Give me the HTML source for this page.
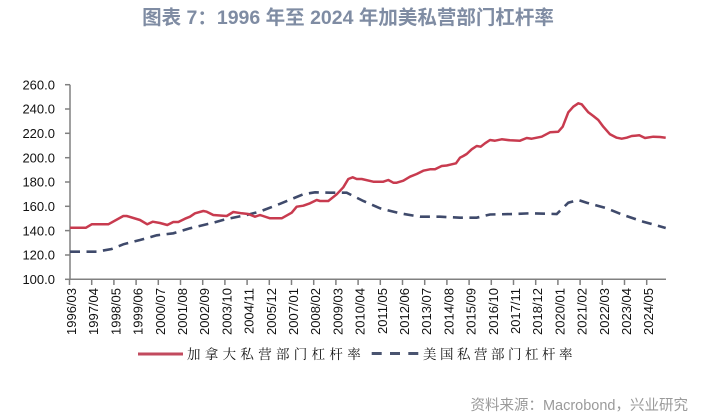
<!DOCTYPE html>
<html><head><meta charset="utf-8">
<style>
html,body{margin:0;padding:0;background:#fff;}
svg{display:block;}
</style></head>
<body>
<svg width="710" height="414" viewBox="0 0 710 414" xmlns="http://www.w3.org/2000/svg">
<rect width="710" height="414" fill="#fff"/>
<text x="348" y="24" text-anchor="middle" font-family="'Liberation Sans','Noto Sans CJK SC',sans-serif" font-size="19.5" font-weight="bold" fill="#7f8ca3">图表 7：1996 年至 2024 年加美私营部门杠杆率</text>

<g stroke="#808080" stroke-width="1.5" fill="none">
<line x1="70" y1="84.7" x2="70" y2="279.3"/>
<line x1="70" y1="279.3" x2="666" y2="279.3"/>
<line x1="65" y1="84.7" x2="70" y2="84.7"/>
<line x1="65" y1="109" x2="70" y2="109"/>
<line x1="65" y1="133.3" x2="70" y2="133.3"/>
<line x1="65" y1="157.7" x2="70" y2="157.7"/>
<line x1="65" y1="182" x2="70" y2="182"/>
<line x1="65" y1="206.3" x2="70" y2="206.3"/>
<line x1="65" y1="230.6" x2="70" y2="230.6"/>
<line x1="65" y1="255" x2="70" y2="255"/>
<line x1="65" y1="279.3" x2="70" y2="279.3"/>
</g>
<g stroke="#808080" stroke-width="1.5" id="xt"></g>

<g font-family="'Liberation Sans',sans-serif" font-size="13" fill="#111" text-anchor="end">
<text x="55" y="89.4">260.0</text>
<text x="55" y="113.7">240.0</text>
<text x="55" y="138">220.0</text>
<text x="55" y="162.4">200.0</text>
<text x="55" y="186.7">180.0</text>
<text x="55" y="211">160.0</text>
<text x="55" y="235.3">140.0</text>
<text x="55" y="259.7">120.0</text>
<text x="55" y="284">100.0</text>
</g>

<g stroke="#808080" stroke-width="1.5">
<line x1="69.5" y1="279" x2="69.5" y2="285"/><line x1="91.7" y1="279" x2="91.7" y2="285"/><line x1="113.9" y1="279" x2="113.9" y2="285"/><line x1="136.1" y1="279" x2="136.1" y2="285"/><line x1="158.3" y1="279" x2="158.3" y2="285"/><line x1="180.5" y1="279" x2="180.5" y2="285"/><line x1="202.7" y1="279" x2="202.7" y2="285"/><line x1="224.9" y1="279" x2="224.9" y2="285"/><line x1="247.1" y1="279" x2="247.1" y2="285"/><line x1="269.3" y1="279" x2="269.3" y2="285"/><line x1="291.5" y1="279" x2="291.5" y2="285"/><line x1="313.7" y1="279" x2="313.7" y2="285"/><line x1="335.9" y1="279" x2="335.9" y2="285"/><line x1="358.1" y1="279" x2="358.1" y2="285"/><line x1="380.3" y1="279" x2="380.3" y2="285"/><line x1="402.5" y1="279" x2="402.5" y2="285"/><line x1="424.7" y1="279" x2="424.7" y2="285"/><line x1="446.9" y1="279" x2="446.9" y2="285"/><line x1="469.1" y1="279" x2="469.1" y2="285"/><line x1="491.3" y1="279" x2="491.3" y2="285"/><line x1="513.5" y1="279" x2="513.5" y2="285"/><line x1="535.7" y1="279" x2="535.7" y2="285"/><line x1="557.9" y1="279" x2="557.9" y2="285"/><line x1="580.1" y1="279" x2="580.1" y2="285"/><line x1="602.3" y1="279" x2="602.3" y2="285"/><line x1="624.5" y1="279" x2="624.5" y2="285"/><line x1="646.7" y1="279" x2="646.7" y2="285"/>
</g>

<g font-family="'Liberation Sans',sans-serif" font-size="13" fill="#111" text-anchor="end">
<text transform="translate(76,288) rotate(-90)">1996/03</text>
<text transform="translate(98.2,288) rotate(-90)">1997/04</text>
<text transform="translate(120.4,288) rotate(-90)">1998/05</text>
<text transform="translate(142.6,288) rotate(-90)">1999/06</text>
<text transform="translate(164.8,288) rotate(-90)">2000/07</text>
<text transform="translate(187,288) rotate(-90)">2001/08</text>
<text transform="translate(209.2,288) rotate(-90)">2002/09</text>
<text transform="translate(231.4,288) rotate(-90)">2003/10</text>
<text transform="translate(253.6,288) rotate(-90)">2004/11</text>
<text transform="translate(275.8,288) rotate(-90)">2005/12</text>
<text transform="translate(298,288) rotate(-90)">2007/01</text>
<text transform="translate(320.2,288) rotate(-90)">2008/02</text>
<text transform="translate(342.4,288) rotate(-90)">2009/03</text>
<text transform="translate(364.6,288) rotate(-90)">2010/04</text>
<text transform="translate(386.8,288) rotate(-90)">2011/05</text>
<text transform="translate(409,288) rotate(-90)">2012/06</text>
<text transform="translate(431.2,288) rotate(-90)">2013/07</text>
<text transform="translate(453.4,288) rotate(-90)">2014/08</text>
<text transform="translate(475.6,288) rotate(-90)">2015/09</text>
<text transform="translate(497.8,288) rotate(-90)">2016/10</text>
<text transform="translate(520,288) rotate(-90)">2017/11</text>
<text transform="translate(542.2,288) rotate(-90)">2018/12</text>
<text transform="translate(564.4,288) rotate(-90)">2020/01</text>
<text transform="translate(586.6,288) rotate(-90)">2021/02</text>
<text transform="translate(608.8,288) rotate(-90)">2022/03</text>
<text transform="translate(631,288) rotate(-90)">2023/04</text>
<text transform="translate(653.2,288) rotate(-90)">2024/05</text>
</g>

<polyline fill="none" stroke="#3f4a6b" stroke-width="2.6" stroke-dasharray="10,6.5" points="70,251.7 96.7,251.7 111.7,249 123.3,244.3 140,240 156.7,235.3 173.3,233.3 190,228.3 213.3,222.7 226.7,219 246.7,215 260,211.5 280,203.8 303.3,194.3 315,192.3 330,192.7 346.7,192.7 363.3,201 380,208.3 400,213.3 420,216.7 440,216.7 460,217.7 476.7,217.7 490,214.5 513.3,214 530,213.3 556.7,214 568.3,202.7 578.3,200 586.7,202.7 606.7,208.3 623.3,215 643.3,221.7 665.7,228"/>

<polyline fill="none" stroke="#c83b4f" stroke-width="2.5" stroke-linejoin="round" points="70,227.7 86,227.7 91.7,224.3 108.3,224.3 123.3,216 126.7,216 140,220 147.3,224.3 152.7,221.7 160,223 167.3,225 173.3,222 178.3,222 185,218.7 190,216.7 195,213.3 203.3,211 206.7,211.7 213.3,215 226.7,216 233.3,212 241.7,213.3 248.3,214 255,216.7 260,215 270,218.3 281.7,218.3 291.7,212.7 296.7,206.7 303.3,205.7 310,203.3 316.7,200 320,201 328.3,201 336.7,194.3 343.3,187.3 348.3,179 352.7,177.3 356.7,179 361.7,179 373.3,181.7 383.3,181.7 388.3,180 393.3,182.7 396.7,182.7 403.3,180.7 410,176.7 416.7,174 423.3,170.7 430,169.3 435,169.3 441.7,166 446.7,165.5 451.7,164.3 456,163.3 460,157.7 463.3,156 466.7,154 471.7,149.3 476.7,146 480.7,146.7 485,143.3 490,140 495,140.7 501.7,139.3 510,140.3 520,140.7 526.7,138 531.7,138.7 541.7,136.7 550,132.3 558.3,131.7 562.7,126.7 568.3,112.3 573.3,106.7 578.3,103.3 581.7,104.3 588.3,112.3 593.3,116 598.3,120 603.3,126.7 610,134.3 616.7,137.7 621.7,138.7 626.7,137.7 631.7,136 639.3,135.3 645,138 653.3,136.7 660,137 665.7,137.7"/>

<line x1="138" y1="354" x2="183" y2="354" stroke="#c24a5e" stroke-width="3"/>
<text x="187" y="359" font-family="'Noto Serif CJK SC','Noto Sans CJK SC',serif" font-size="13.5" letter-spacing="4.3" fill="#111">加拿大私营部门杠杆率</text>
<line x1="371.7" y1="353.5" x2="419" y2="353.5" stroke="#4a5470" stroke-width="3" stroke-dasharray="10,8.3"/>
<text x="423" y="359" font-family="'Noto Serif CJK SC','Noto Sans CJK SC',serif" font-size="13.5" letter-spacing="3.5" fill="#111">美国私营部门杠杆率</text>

<text x="688" y="410" text-anchor="end" font-family="'Liberation Sans','Noto Sans CJK SC',sans-serif" font-size="14.5" fill="#9a9a9a">资料来源：Macrobond，兴业研究</text>
</svg>
</body></html>
